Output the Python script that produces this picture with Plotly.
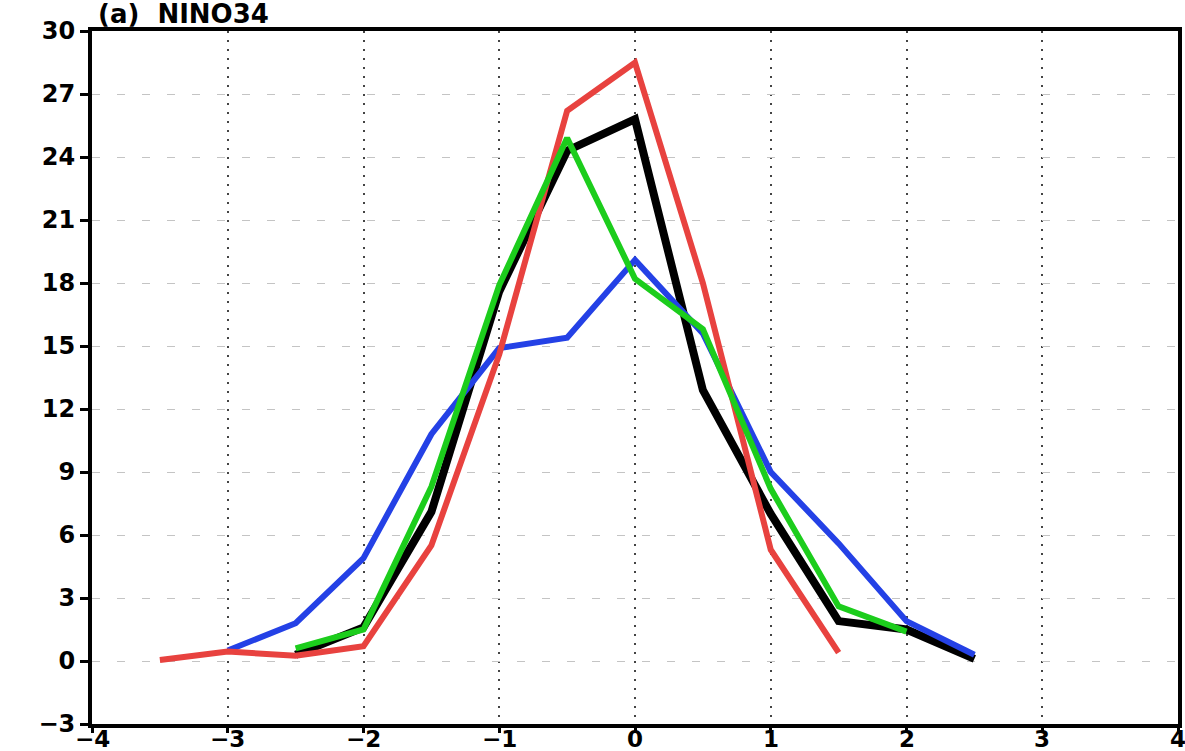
import plotly.graph_objects as go

black_x = [-2.5, -2.0, -1.5, -1.0, -0.5, 0.0, 0.5, 1.0, 1.5, 2.0, 2.5]
black_y = [0.3, 1.6, 7.1, 17.6, 24.3, 25.8, 12.9, 7.0, 1.9, 1.5, 0.1]

blue_x = [-3.0, -2.5, -2.0, -1.5, -1.0, -0.5, 0.0, 0.5, 1.0, 1.5, 2.0, 2.5]
blue_y = [0.5, 1.8, 4.9, 10.8, 14.9, 15.4, 19.1, 15.6, 9.0, 5.6, 1.9, 0.3]

red_x = [-3.5, -3.0, -2.5, -2.0, -1.5, -1.0, -0.5, 0.0, 0.5, 1.0, 1.5]
red_y = [0.05, 0.45, 0.25, 0.7, 5.5, 14.6, 26.2, 28.5, 18.0, 5.3, 0.4]

green_x = [-2.5, -2.0, -1.5, -1.0, -0.5, 0.0, 0.5, 1.0, 1.5, 2.0]
green_y = [0.6, 1.5, 8.3, 17.9, 24.9, 18.2, 15.8, 8.2, 2.6, 1.4]

x_ticks = [-4, -3, -2, -1, 0, 1, 2, 3, 4]
y_ticks = [-3, 0, 3, 6, 9, 12, 15, 18, 21, 24, 27, 30]
title_text = "(a)  NINO34"

fig = go.Figure()
series = [
    (black_x, black_y, "#000000", 8),
    (blue_x, blue_y, "#2441e6", 6),
    (red_x, red_y, "#e8423f", 6),
    (green_x, green_y, "#1ccd1c", 6),
]
for xs, ys, col, w in series:
    fig.add_trace(go.Scatter(x=xs, y=ys, mode="lines",
                             line=dict(color=col, width=w), showlegend=False))

tick_font = dict(family="DejaVu Sans", size=24, color="black", weight="bold")
xtick_font = dict(family="DejaVu Sans", size=23, color="black", weight="bold")

annotations = [dict(text=title_text, xref="paper", yref="paper",
                    x=0.004, y=1.0, xanchor="left", yanchor="bottom",
                    showarrow=False, yshift=0,
                    font=dict(family="DejaVu Sans", size=26, color="black", weight="bold"))]
for v in x_ticks:
    label = str(v).replace("-", "\u2212")
    annotations.append(dict(text=label, xref="x", yref="paper", x=v, y=0,
                            xanchor="center", yanchor="top", showarrow=False,
                            yshift=-1, borderpad=0, font=xtick_font))

fig.update_layout(
    width=1185, height=751,
    margin=dict(l=92, r=7, t=31, b=27),
    paper_bgcolor="white", plot_bgcolor="white",
    xaxis=dict(range=[-4, 4], tickmode="array", tickvals=x_ticks,
               automargin=False, showticklabels=False,
               showline=True, linecolor="black", linewidth=4, mirror=True,
               ticks="outside", ticklen=5, tickwidth=3, tickcolor="black",
               showgrid=True, gridcolor="#444444", gridwidth=2,
               griddash="2px,7px", zeroline=False),
    yaxis=dict(range=[-3, 30], tickmode="array", tickvals=y_ticks,
               automargin=False,
               showline=True, linecolor="black", linewidth=4, mirror=True,
               ticks="outside", ticklen=8, tickwidth=3, tickcolor="black",
               tickfont=tick_font,
               showgrid=True, gridcolor="#c4c4c4", gridwidth=1,
               griddash="8px,17px", zeroline=False),
    annotations=annotations,
)

fig.write_html("out.html")
